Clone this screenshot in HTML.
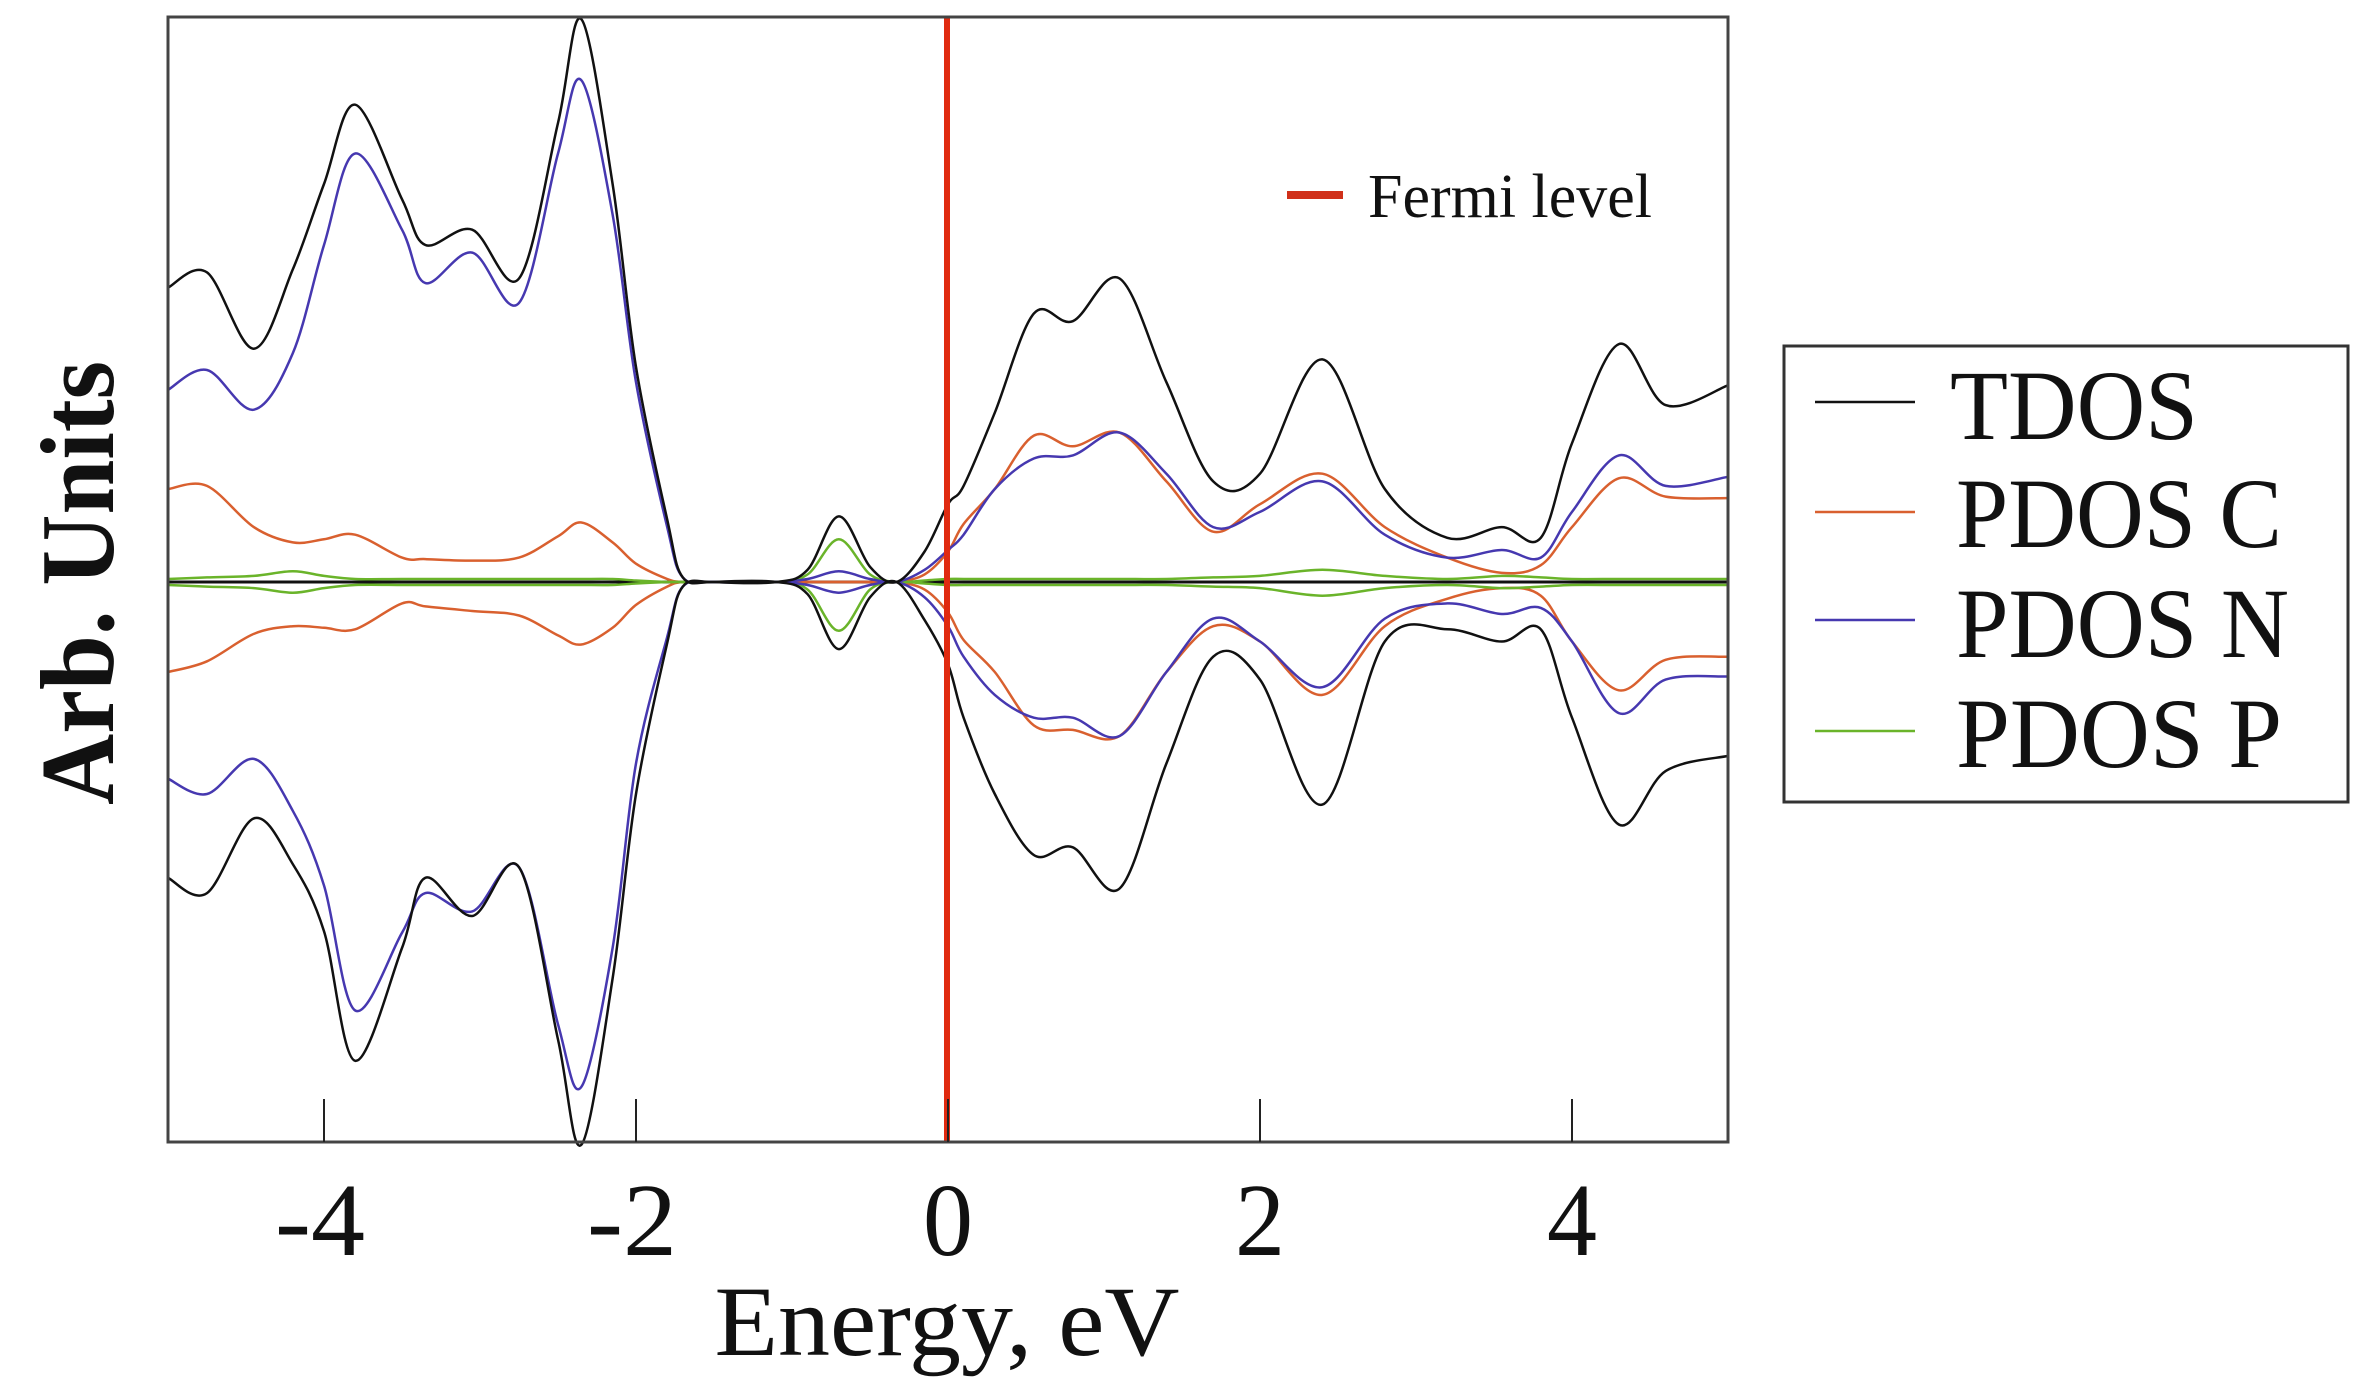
<!DOCTYPE html>
<html><head><meta charset="utf-8"><style>
html,body{margin:0;padding:0;background:#fff;}
svg{display:block;}
text{font-family:"Liberation Serif",serif;fill:#111;}
</style></head><body>
<svg id="chart" width="2379" height="1398" viewBox="0 0 2379 1398" xmlns="http://www.w3.org/2000/svg">
<rect x="0" y="0" width="2379" height="1398" fill="#fff"/>
<g id="series"></g>
<line id="fermi" x1="947" y1="17" x2="947" y2="1142" stroke="#e02a10" stroke-width="6"/>
<rect x="168" y="17" width="1560" height="1125" fill="none" stroke="#444" stroke-width="3"/>
<g id="xticks"></g>
<text x="947" y="1355" font-size="100" text-anchor="middle" textLength="465" lengthAdjust="spacingAndGlyphs">Energy, eV</text>
<text transform="translate(113,583) rotate(-90)" x="0" y="0" font-size="105" font-weight="bold" text-anchor="middle" textLength="444" lengthAdjust="spacingAndGlyphs">Arb. Units</text>
<g>
<line x1="1287" y1="195" x2="1343" y2="195" stroke="#d0301a" stroke-width="8"/>
<text x="1368" y="217" font-size="62" textLength="284" lengthAdjust="spacingAndGlyphs">Fermi level</text>
</g>
<g>
<rect x="1784" y="346" width="564" height="456" fill="#fff" stroke="#333" stroke-width="3"/>
<line x1="1815" y1="402" x2="1915" y2="402" stroke="#111" stroke-width="2.5"/>
<text x="1950" y="439" font-size="100" textLength="248" lengthAdjust="spacingAndGlyphs">TDOS</text>
<line x1="1815" y1="512" x2="1915" y2="512" stroke="#d9602f" stroke-width="2.5"/>
<text x="1956" y="547" font-size="100" textLength="326" lengthAdjust="spacingAndGlyphs">PDOS C</text>
<line x1="1815" y1="620" x2="1915" y2="620" stroke="#4638b0" stroke-width="2.5"/>
<text x="1956" y="657" font-size="100" textLength="333" lengthAdjust="spacingAndGlyphs">PDOS N</text>
<line x1="1815" y1="731" x2="1915" y2="731" stroke="#6ab42a" stroke-width="2.5"/>
<text x="1956" y="767" font-size="100" textLength="326" lengthAdjust="spacingAndGlyphs">PDOS P</text>
</g>
</svg>
<script>
const energy = [-5,-4.75,-4.45,-4.2,-4.0,-3.8,-3.5,-3.35,-3.05,-2.75,-2.5,-2.35,-2.15,-2.0,-1.8,-1.7,-1.5,-1.1,-0.9,-0.7,-0.5,-0.33,-0.15,0,0.1,0.3,0.55,0.8,1.1,1.4,1.7,2.0,2.4,2.8,3.2,3.55,3.8,4.0,4.3,4.6,5.0];
const tdosUp = [193,203,153,205,261,313,251,221,231,199,301,369,261,141,41,3,0,0,8,43,10,0,20,51,63,111,176,171,199,131,66,71,146,61,29,36,29,91,156,116,129];
const tdosDown = [194,204,155,185,229,314,240,194,219,187,300,369,260,139,40,3,0,0,8,44,10,0,25,54,89,139,179,174,201,119,49,64,146,39,31,39,31,89,159,124,114];
const nUp = [126,139,113,150,221,281,231,196,216,183,281,329,241,131,36,3,0,0,2,7,2,0,8,21,31,61,81,83,98,71,36,46,66,31,16,21,16,46,83,63,69];
const nDown = [129,139,116,150,199,281,230,204,216,187,290,331,240,119,36,3,0,0,2,7,2,0,10,29,49,74,89,89,101,59,24,39,69,24,14,21,17,39,86,64,62];
const cUp = [61,63,36,26,28,31,16,15,14,16,30,39,26,12,2,0,0,0,0,0,0,0,5,20,38,61,96,89,98,66,33,51,71,36,16,6,11,36,68,56,55];
const cDown = [59,52,34,29,30,31,14,16,19,22,35,41,30,15,3,0,0,0,0,0,0,0,5,20,38,59,94,97,101,59,29,39,74,29,11,4,9,39,71,51,49];
const pUp = [2,3,4,7,4,2,2,2,2,2,2,2,2,1,0,0,0,0,5,28,5,0,1,2,2,2,2,2,2,2,3,4,8,4,2,4,3,2,2,2,2];
const pDown = [2,3,4,7,4,2,2,2,2,2,2,2,2,1,0,0,0,0,5,32,5,0,1,2,2,2,2,2,2,2,3,4,9,4,2,4,3,2,2,2,2];
const xTicks = [-4,-2,0,2,4];
const xTickLabels = ["-4","-2","0","2","4"];

function xScale(e){ return 168 + (e + 5) * 156; }
function yScale(v){ return 582 - v * 1.525; }

const NS = "http://www.w3.org/2000/svg";
function pathFor(vals, sign){
  const pts = energy.map((e,i)=>[xScale(e), yScale(sign*vals[i])]);
  let d = "M" + pts[0][0].toFixed(1) + "," + pts[0][1].toFixed(1);
  for(let i=0;i<pts.length-1;i++){
    const p0 = pts[Math.max(0,i-1)], p1 = pts[i], p2 = pts[i+1], p3 = pts[Math.min(pts.length-1,i+2)];
    const c1x = p1[0] + (p2[0]-p0[0])/6, c1y = p1[1] + (p2[1]-p0[1])/6;
    const c2x = p2[0] - (p3[0]-p1[0])/6, c2y = p2[1] - (p3[1]-p1[1])/6;
    d += " C" + c1x.toFixed(1)+","+c1y.toFixed(1)+" "+c2x.toFixed(1)+","+c2y.toFixed(1)+" "+p2[0].toFixed(1)+","+p2[1].toFixed(1);
  }
  return d;
}
const g = document.getElementById("series");
function addLine(vals, sign, color, name, w){
  const p = document.createElementNS(NS, "path");
  p.setAttribute("d", pathFor(vals, sign));
  p.setAttribute("fill", "none");
  p.setAttribute("stroke", color);
  p.setAttribute("stroke-width", w);
  p.setAttribute("stroke-linejoin", "round");
  
  
  g.appendChild(p);
}
const zero = document.createElementNS(NS, "line");
zero.setAttribute("x1", 168); zero.setAttribute("x2", 1728);
zero.setAttribute("y1", yScale(0)); zero.setAttribute("y2", yScale(0));
zero.setAttribute("stroke", "#111"); zero.setAttribute("stroke-width", 3);


g.appendChild(zero);
addLine(cUp, 1, "#d9602f", "pdos-c-up", 2.5);
addLine(cDown, -1, "#d9602f", "pdos-c-down", 2.5);
addLine(pUp, 1, "#6ab42a", "pdos-p-up", 2.5);
addLine(pDown, -1, "#6ab42a", "pdos-p-down", 2.5);
addLine(nUp, 1, "#4638b0", "pdos-n-up", 2.5);
addLine(nDown, -1, "#4638b0", "pdos-n-down", 2.5);
addLine(tdosUp, 1, "#111", "tdos-up", 2.5);
addLine(tdosDown, -1, "#111", "tdos-down", 2.5);

const xt = document.getElementById("xticks");
xTicks.forEach((t,i)=>{
  const l = document.createElementNS(NS, "line");
  l.setAttribute("x1", xScale(t)); l.setAttribute("x2", xScale(t));
  l.setAttribute("y1", 1142); l.setAttribute("y2", 1099);
  l.setAttribute("stroke", "#222"); l.setAttribute("stroke-width", 2);
  
  
  xt.appendChild(l);
  const tx = document.createElementNS(NS, "text");
  tx.setAttribute("x", xScale(t) + (xTickLabels[i].length > 1 ? -4 : 0));
  tx.setAttribute("y", 1255);
  tx.setAttribute("font-size", "104");
  tx.setAttribute("text-anchor", "middle");
  tx.setAttribute("textLength", xTickLabels[i].length > 1 ? 90 : 50);
  tx.setAttribute("lengthAdjust", "spacingAndGlyphs");
  tx.textContent = xTickLabels[i];
  
  
  xt.appendChild(tx);
});
</script>
</body></html>
